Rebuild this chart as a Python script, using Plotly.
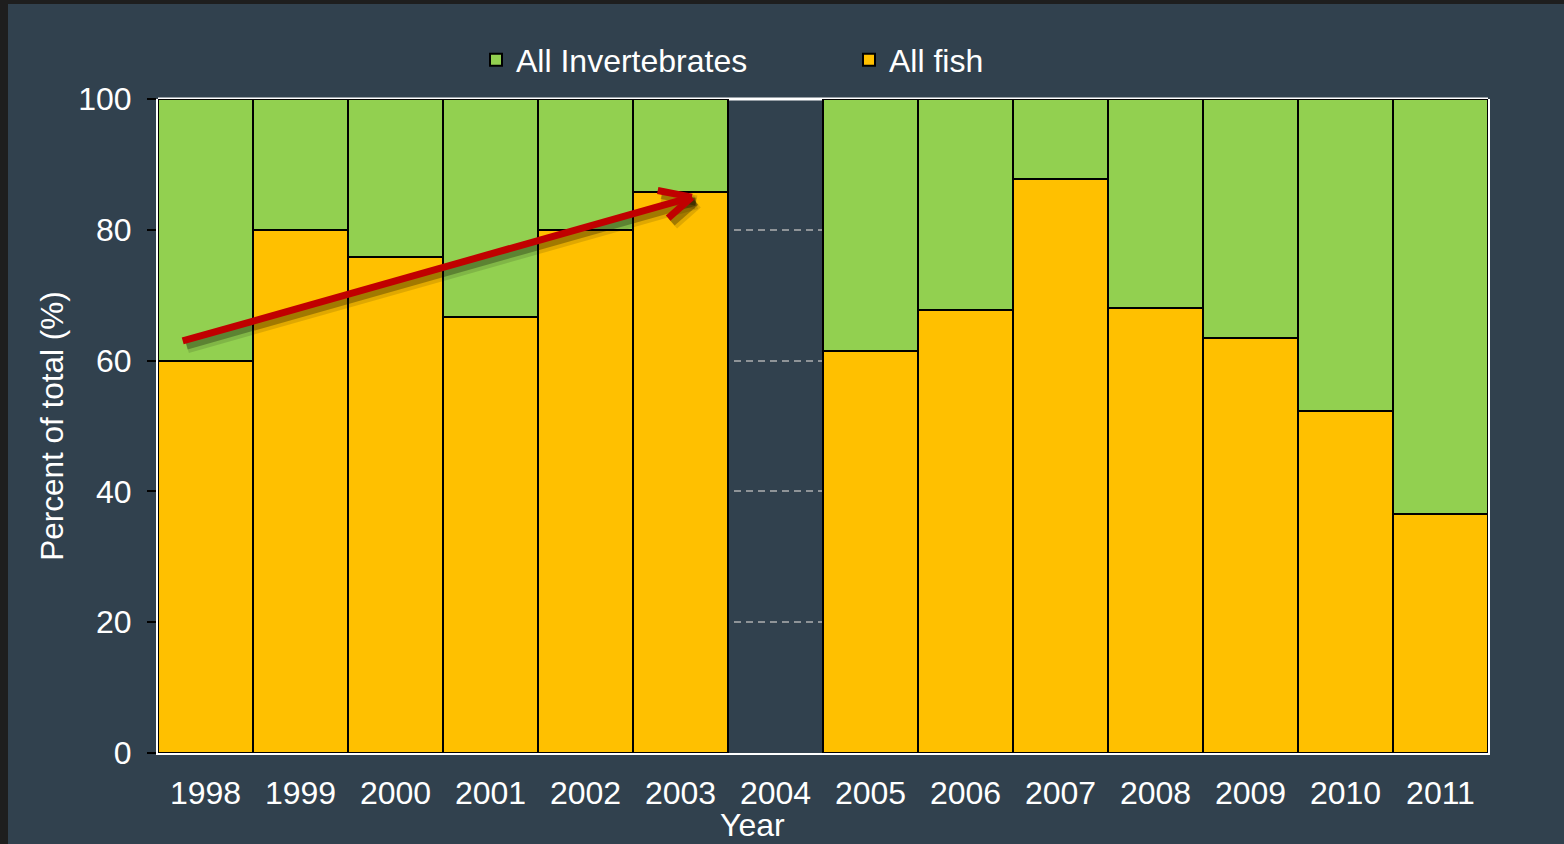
import plotly.graph_objects as go

years = ["1998", "1999", "2000", "2001", "2002", "2003", "2004",
         "2005", "2006", "2007", "2008", "2009", "2010", "2011"]
fish = [60.0, 80.0, 75.8, 66.7, 80.0, 85.8, None,
        61.5, 67.8, 87.8, 68.0, 63.5, 52.3, 36.6]
inverts = [None if f is None else round(100 - f, 1) for f in fish]
y_ticks = [0, 20, 40, 60, 80, 100]

# trend arrow (in data coordinates: x = category index, y = percent)
arrow_start = (-0.24, 63.0)
arrow_tip = (5.12, 85.0)
arrow_arm1 = (4.76, 86.0)
arrow_arm2 = (4.87, 81.8)

BG = "#31414e"
GREEN = "#92d050"
ORANGE = "#ffc000"
RED = "#c00000"
FONT = "Liberation Sans, Arial, sans-serif"
FS = 32

xs = list(range(len(years)))

fig = go.Figure()
fig.add_trace(go.Bar(x=xs, y=fish, name="All fish",
                     marker=dict(color=ORANGE, line=dict(color="black", width=2))))
fig.add_trace(go.Bar(x=xs, y=inverts, name="All Invertebrates",
                     marker=dict(color=GREEN, line=dict(color="black", width=2))))

W, H = 1564, 844
ml, mr, mt, mb = 158, 76, 99, 91
pw, ph = W - ml - mr, H - mt - mb

def px_x(p):
    return (p - ml) / pw

def px_y(p):
    return (H - mb - p) / ph

shapes = []
# white top border of plot area (below bars)
shapes.append(dict(type="line", xref="paper", yref="paper", x0=0, x1=1, y0=1, y1=1,
                   line=dict(color="white", width=3), layer="below"))

# arrow shadow (soft, two passes)
segs = [(arrow_start, arrow_tip), (arrow_arm1, arrow_tip), (arrow_arm2, arrow_tip)]
for (sdx, sdy, w, c) in [(0.045, -0.8, 14, "rgba(0,0,0,0.12)"),
                          (0.04, -0.7, 8, "rgba(0,0,0,0.28)")]:
    for (a, b) in segs:
        shapes.append(dict(type="line", xref="x", yref="y",
                           x0=a[0] + sdx, y0=a[1] + sdy, x1=b[0] + sdx, y1=b[1] + sdy,
                           line=dict(color=c, width=w)))
for (a, b) in segs:
    shapes.append(dict(type="line", xref="x", yref="y",
                       x0=a[0], y0=a[1], x1=b[0], y1=b[1],
                       line=dict(color=RED, width=7)))

# dark outer frame strips (left and top)
shapes.append(dict(type="rect", xref="paper", yref="paper",
                   x0=px_x(-5), x1=px_x(8), y0=px_y(H + 5), y1=px_y(-5),
                   fillcolor="#1e1e1e", line=dict(width=0), layer="above"))
shapes.append(dict(type="rect", xref="paper", yref="paper",
                   x0=px_x(-5), x1=px_x(W + 5), y0=px_y(4), y1=px_y(-5),
                   fillcolor="#1e1e1e", line=dict(width=0), layer="above"))

fig.update_layout(
    width=W, height=H,
    margin=dict(l=ml, r=mr, t=mt, b=mb),
    paper_bgcolor=BG, plot_bgcolor=BG,
    barmode="stack", bargap=0,
    font=dict(family=FONT, color="white", size=FS),
    shapes=shapes,
    legend=dict(orientation="h", traceorder="reversed",
                x=px_x(476), xanchor="left", y=px_y(60), yanchor="middle",
                font=dict(size=FS, color="white"), entrywidth=328,
                bgcolor="rgba(0,0,0,0)"),
    annotations=[dict(text="Year", xref="paper", yref="paper",
                      x=px_x(752), y=px_y(825), xanchor="center", yanchor="middle",
                      showarrow=False, font=dict(size=FS, color="white"))],
    xaxis=dict(range=[-0.5, 13.5], tickmode="array", tickvals=xs, ticktext=years,
               showgrid=False, zeroline=False,
               showline=True, linecolor="white", linewidth=2,
               ticks="outside", ticklen=11, tickcolor="rgba(0,0,0,0)",
               tickfont=dict(size=FS, color="white"), layer="below traces"),
    yaxis=dict(range=[0, 100], tickvals=y_ticks,
               showgrid=True, gridcolor="#8f9498", gridwidth=1.5, griddash="7px,5px",
               zeroline=False,
               showline=True, mirror=True, linecolor="white", linewidth=2,
               ticks="outside", ticklen=9, tickwidth=2, tickcolor="black",
               ticklabelstandoff=9,
               tickfont=dict(size=FS, color="white"), layer="below traces",
               title=dict(text="Percent of total (%)", font=dict(size=31.5, color="white"),
                          standoff=5)),
)

fig.write_html("out.html", config={"displayModeBar": False},
               post_script="document.body.style.margin='0';document.body.style.padding='0';")
